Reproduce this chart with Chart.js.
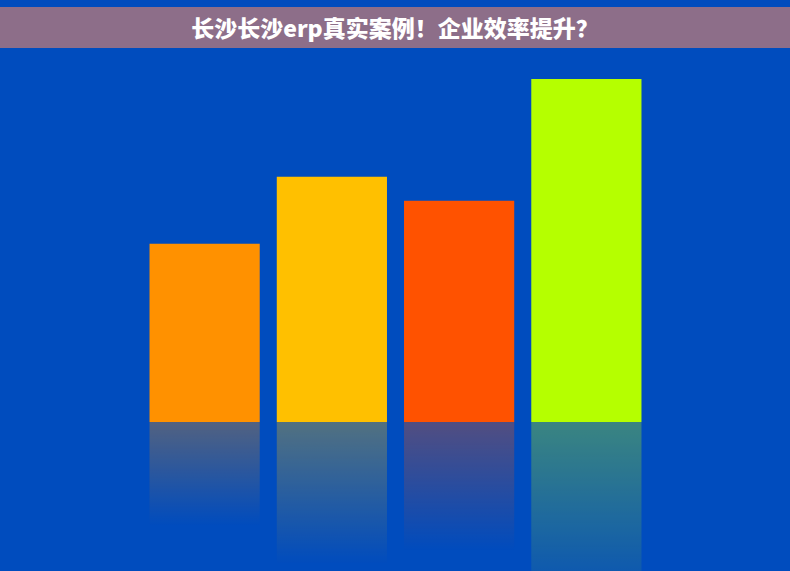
<!DOCTYPE html>
<html lang="zh">
<head>
    <meta charset="UTF-8">
    <script src="https://cdn.jsdelivr.net/npm/chart.js"></script>
    <title>长沙长沙erp真实案例</title>
    <style>
        body {
            margin: 0;
            padding: 0;
            background-color: #004cbe;
            overflow: hidden;
        }
        .wrap {
            position: relative;
            width: 790px;
            height: 571px;
        }
        .title-bar {
            position: absolute;
            left: 0;
            top: 7px;
            width: 790px;
            height: 41px;
            line-height: 41px;
            background-color: #8d6e89;
            color: #fff;
            text-align: center;
            font-family: "Noto Sans CJK SC", "Noto Sans", sans-serif;
            font-weight: 900;
            font-size: 23px;
            z-index: 2;
        }
        canvas {
            position: absolute;
            left: 0;
            top: 0;
        }
    </style>
</head>
<body>
    <div class="wrap">
        <div class="title-bar">长沙长沙erp真实案例！企业效率提升？</div>
        <canvas id="barChart" width="790" height="571"></canvas>
    </div>

    <script>
        const categories = ['A', 'B', 'C', 'D'];
        const values = [52, 71.5, 64.5, 100];
        const barColors = ['#ff9100', '#ffc000', '#ff5200', '#b5ff00'];

        function hexToRgba(hex, a) {
            const n = parseInt(hex.slice(1), 16);
            return `rgba(${(n >> 16) & 255}, ${(n >> 8) & 255}, ${n & 255}, ${a})`;
        }

        // mirrored fading copy of each bar under the baseline
        const reflection = {
            id: 'reflection',
            afterDatasetsDraw(chart) {
                const ctx = chart.ctx;
                const meta = chart.getDatasetMeta(0);
                meta.data.forEach((bar, i) => {
                    const h = bar.base - bar.y;
                    const len = h * 0.58;
                    const left = bar.x - bar.width / 2;
                    const g = ctx.createLinearGradient(0, bar.base, 0, bar.base + len);
                    g.addColorStop(0, hexToRgba(barColors[i], 0.32));
                    g.addColorStop(1, hexToRgba(barColors[i], 0));
                    ctx.save();
                    ctx.fillStyle = g;
                    ctx.fillRect(left, bar.base, bar.width, len);
                    ctx.restore();
                });
            }
        };

        new Chart(document.getElementById('barChart'), {
            type: 'bar',
            data: {
                labels: categories,
                datasets: [{
                    data: values,
                    backgroundColor: barColors,
                    borderWidth: 0
                }]
            },
            options: {
                responsive: false,
                animation: false,
                layout: {
                    padding: { left: 141, right: 140, top: 79, bottom: 149 }
                },
                datasets: {
                    bar: { categoryPercentage: 1, barPercentage: 0.866 }
                },
                scales: {
                    x: { display: false },
                    y: { display: false, min: 0, max: 100 }
                },
                plugins: {
                    legend: { display: false },
                    tooltip: { enabled: false }
                }
            },
            plugins: [reflection]
        });
    </script>
</body>
</html>
